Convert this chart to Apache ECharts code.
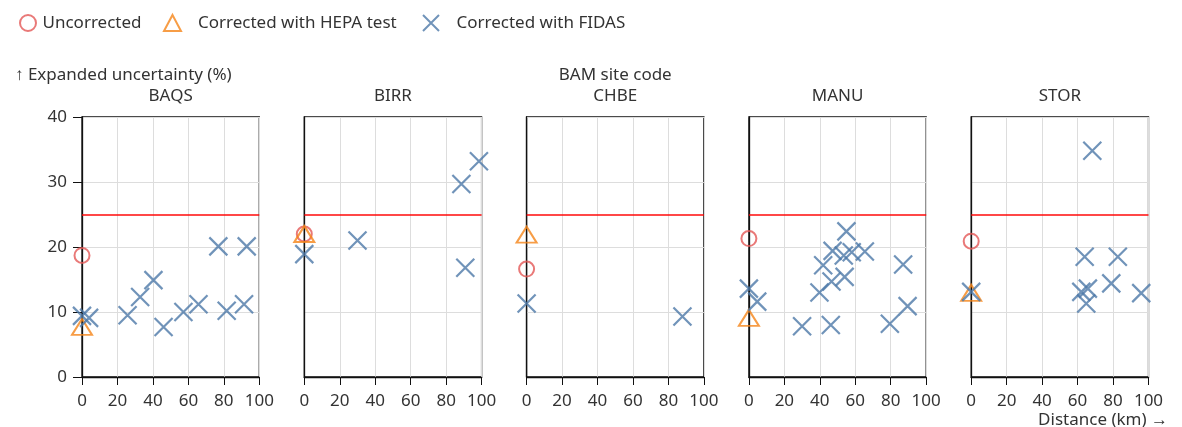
<!DOCTYPE html>
<html>
<head>
<meta charset="utf-8">
<script src="https://cdn.jsdelivr.net/npm/echarts@6/dist/echarts.min.js"></script>
<style>
  html, body { margin: 0; padding: 0; background: #fff; }
  #chart { width: 1182px; height: 427px; }
</style>
</head>
<body>
<div id="chart"></div>
<script>
// BAM site codes, one small panel each
const sites = ['BAQS', 'BIRR', 'CHBE', 'MANU', 'STOR'];

// Uncorrected and HEPA-corrected uncertainty (%), co-located units (distance 0 km)
const uncorrectedPct = [18.7, 22.0, 16.6, 21.3, 20.9];
const hepaCorrectedPct = [7.7, 22.0, 21.9, 9.1, 12.95];

// FIDAS-corrected uncertainty: [distance (km), expanded uncertainty (%)]
const fidasBAQS = [[0, 9.4], [4, 9.1], [25.7, 9.5], [32.8, 12.3], [40.3, 14.9], [46, 7.7],
  [57.2, 10.0], [65.7, 11.2], [76.9, 20.1], [81.6, 10.2], [91.4, 11.2], [92.9, 20.1]];
const fidasBIRR = [[0, 18.9], [30, 21.0], [88.6, 29.7], [90.8, 16.8], [98.5, 33.2]];
const fidasCHBE = [[0, 11.3], [87.9, 9.3]];
const fidasMANU = [[0, 13.6], [4.7, 11.6], [30, 7.8], [39.8, 13.0], [41.9, 17.2], [46.2, 8.0],
  [46.6, 14.7], [47.2, 19.4], [53.5, 18.7], [54, 15.4], [55, 22.4], [58, 19.2], [65.4, 19.3],
  [79.5, 8.2], [87, 17.3], [89.5, 10.9]];
const fidasSTOR = [[0, 13.1], [62.1, 13.1], [64, 18.5], [64.9, 11.3], [65.8, 13.6], [68.3, 34.8],
  [79, 14.4], [82.7, 18.5], [95.9, 12.9]];
const fidasBySite = [fidasBAQS, fidasBIRR, fidasCHBE, fidasMANU, fidasSTOR];

// Axis ticks and performance limit
const xTicks = { min: 0, max: 100, step: 20 };
const yTicks = { min: 0, max: 40, step: 10 };
const limitPct = 25;

const FONT = 'Noto Sans';
const TEXT = '#333';
const RED = '#e45756', ORANGE = '#f58518', BLUE = '#4c78a8';
const CROSS = 'path://M0,0L10,10M10,0L0,10';

const panelLeft = 82, panelStep = 222.3, panelWidth = 177.3;
const panelTop = 117, panelHeight = 260;

const grids = [], xAxes = [], yAxes = [], series = [], graphics = [];

sites.forEach((site, i) => {
  const left = panelLeft + i * panelStep;
  grids.push({
    left: left, top: panelTop, width: panelWidth, height: panelHeight,
    show: true, borderColor: '#111', borderWidth: 1.3, containLabel: false
  });
  xAxes.push({
    type: 'value', gridIndex: i, min: xTicks.min, max: xTicks.max, interval: xTicks.step,
    axisLine: { show: true, onZero: false, lineStyle: { color: '#111', width: 1.3 } },
    axisTick: { show: true, length: 8, lineStyle: { color: '#111' } },
    axisLabel: { show: true, margin: 16, fontFamily: FONT, fontSize: 17, color: TEXT },
    splitLine: { show: true, lineStyle: { color: '#ddd', width: 1 } }
  });
  yAxes.push({
    type: 'value', gridIndex: i, min: yTicks.min, max: yTicks.max, interval: yTicks.step,
    axisLine: { show: true, onZero: false, lineStyle: { color: '#111', width: 1.3 } },
    axisTick: { show: i === 0, length: 9, lineStyle: { color: '#111' } },
    axisLabel: { show: i === 0, margin: 15, fontFamily: FONT, fontSize: 17, color: TEXT },
    splitLine: { show: true, lineStyle: { color: '#ddd', width: 1 } }
  });

  series.push({
    name: 'Uncorrected', type: 'scatter', xAxisIndex: i, yAxisIndex: i, clip: false,
    symbol: 'circle', symbolSize: 15,
    itemStyle: { color: 'rgba(0,0,0,0)', borderColor: RED, borderWidth: 2 },
    data: [[0, uncorrectedPct[i]]]
  });
  series.push({
    name: 'Corrected with HEPA test', type: 'scatter', xAxisIndex: i, yAxisIndex: i, clip: false,
    symbol: 'triangle', symbolSize: [20, 16],
    itemStyle: { color: 'rgba(0,0,0,0)', borderColor: ORANGE, borderWidth: 2 },
    data: [[0, hepaCorrectedPct[i]]],
    markLine: {
      silent: true, symbol: 'none', animation: false,
      label: { show: false },
      lineStyle: { color: 'rgba(255,0,0,0.72)', width: 2, type: 'solid' },
      data: [{ yAxis: limitPct }]
    }
  });
  series.push({
    name: 'Corrected with FIDAS', type: 'scatter', xAxisIndex: i, yAxisIndex: i, clip: false,
    symbol: CROSS, symbolSize: 18,
    itemStyle: { color: 'rgba(0,0,0,0)', borderColor: BLUE, borderWidth: 2.2 },
    data: fidasBySite[i]
  });

  graphics.push({
    type: 'text', x: left + panelWidth / 2, y: 96,
    style: { text: site, fontFamily: FONT, fontSize: 17, fill: TEXT, align: 'center', verticalAlign: 'middle' }
  });
});

graphics.push({
  type: 'text', x: 15, y: 75,
  style: { text: '↑ Expanded uncertainty (%)', fontFamily: FONT, fontSize: 17, fill: TEXT, align: 'left', verticalAlign: 'middle' }
});
graphics.push({
  type: 'text', x: panelLeft + 2 * panelStep + panelWidth / 2, y: 75,
  style: { text: 'BAM site code', fontFamily: FONT, fontSize: 17, fill: TEXT, align: 'center', verticalAlign: 'middle' }
});
graphics.push({
  type: 'text', x: 1168, y: 420,
  style: { text: 'Distance (km) →', fontFamily: FONT, fontSize: 17, fill: TEXT, align: 'right', verticalAlign: 'middle' }
});

// One legend block per entry so each symbol sits at its own spot
function legendEntry(name, left, gap) {
  return {
    left: left, top: 14, padding: 0, itemWidth: 17, itemHeight: 16,
    textStyle: { fontFamily: FONT, fontSize: 17, color: TEXT, padding: [0, 0, 0, gap] },
    data: [name]
  };
}

const chart = echarts.init(document.getElementById('chart'), null, { renderer: 'canvas' });
chart.setOption({
  animation: false,
  backgroundColor: '#fff',
  textStyle: { fontFamily: FONT },
  legend: [
    legendEntry('Uncorrected', 19, 1),
    legendEntry('Corrected with HEPA test', 163, 12),
    legendEntry('Corrected with FIDAS', 422, 12)
  ],
  grid: grids,
  xAxis: xAxes,
  yAxis: yAxes,
  series: series,
  graphic: graphics
});
</script>
</body>
</html>
